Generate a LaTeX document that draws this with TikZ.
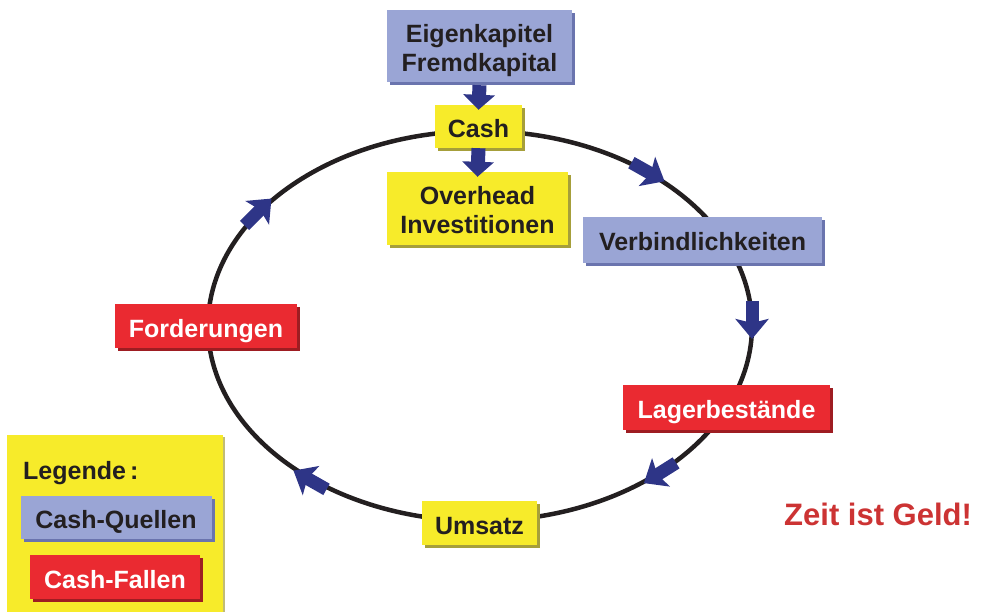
\documentclass[tikz,border=0pt]{standalone}
\usepackage{fontspec}
\setmainfont{Liberation Sans}
\usetikzlibrary{arrows.meta,shadows}
\definecolor{quelleblue}{HTML}{9AA5D5}
\definecolor{quelleshadow}{HTML}{6A74AE}
\definecolor{cashyellow}{HTML}{F7EB2A}
\definecolor{cashshadow}{HTML}{A69F3A}
\definecolor{fallered}{HTML}{EA2A31}
\definecolor{falleshadow}{HTML}{9E1D22}
\definecolor{flowblue}{HTML}{2E3587}
\definecolor{zeitred}{HTML}{CC3333}
\definecolor{textblack}{HTML}{231F20}
\tikzset{
  box/.style={inner sep=0pt, align=center, font=\bfseries\fontsize{25}{29}\selectfont},
  oneline/.style={text height=23pt, text depth=1pt},
  quelle/.style={box, fill=quelleblue, text=textblack,
    drop shadow={shadow xshift=3pt, shadow yshift=-3pt, fill=quelleshadow, opacity=1}},
  cash/.style={box, fill=cashyellow, text=textblack,
    drop shadow={shadow xshift=3pt, shadow yshift=-3pt, fill=cashshadow, opacity=1}},
  falle/.style={box, fill=fallered, text=white,
    drop shadow={shadow xshift=3pt, shadow yshift=-3pt, fill=falleshadow, opacity=1}},
  flow/.style={draw=flowblue, line width=14pt, -{Triangle[length=15pt, width=31pt]}},
  cycleflow/.style={draw=flowblue, line width=13pt, -{Stealth[length=20pt, width=33pt, inset=4pt]}}
}
\begin{document}
\begin{tikzpicture}[x=1pt, y=-1pt]
\useasboundingbox (0,0) rectangle (985,612);
% cycle
\draw[line width=4.5pt, textblack] (480,326) ellipse [x radius=272, y radius=195];
% sources
\node[quelle, minimum width=185pt, minimum height=72pt] (kapital) at (479.5,46)
  {\rule{0pt}{27pt}Eigenkapitel\\Fremdkapital\rule[-5pt]{0pt}{5pt}};
\node[cash, oneline, minimum width=87pt, minimum height=43pt] (cash) at (478.5,126.5) {Cash};
\node[cash, minimum width=181pt, minimum height=73pt] (overhead) at (477.5,208.5)
  {\rule{0pt}{27pt}Overhead\\Investitionen\rule[-5pt]{0pt}{5pt}};
\draw[flow] ([yshift=-3pt]kapital.south) -- ([yshift=-5pt]cash.north);
\draw[flow] (cash.south) -- ([yshift=-5pt]overhead.north);
% stations
\node[quelle, oneline, minimum width=239pt, minimum height=46pt] (verb) at (702.5,240) {Verbindlichkeiten};
\node[falle, oneline, minimum width=207pt, minimum height=45pt] (lager) at (726.5,407.5) {Lagerbestände};
\node[cash, oneline, minimum width=115pt, minimum height=44pt] (umsatz) at (479.5,523) {Umsatz};
\node[falle, oneline, minimum width=182pt, minimum height=44pt] (ford) at (206,326) {Forderungen};
% flow direction
\draw[cycleflow] (648,172) ++(209.3:19) -- ++(29.3:38);
\draw[cycleflow] (752,320) ++(-90:19) -- ++(90:38);
\draw[cycleflow] (660,473) ++(-32.2:19) -- ++(147.8:38);
\draw[cycleflow] (310,480) ++(29.6:19) -- ++(-150.4:38);
\draw[cycleflow] (258,212) ++(135:19) -- ++(-45:38);
% legend
\node[fill=cashyellow, inner sep=0pt, anchor=north west, minimum width=216pt, minimum height=180pt,
  drop shadow={shadow xshift=2pt, shadow yshift=-2pt, fill=cashshadow!70, opacity=1}] (legend) at (7,435) {};
\node[box, text=textblack, anchor=base west] (legtitle) at (23,479) {Legende\,:};
\node[quelle, oneline, minimum width=191pt, minimum height=43pt] (quellen) at (116,517) {Cash-Quellen};
\node[falle, oneline, minimum width=170pt, minimum height=44pt] (fallen) at (115,577) {Cash-Fallen};
\node[inner sep=0pt, anchor=base west, text=zeitred, font=\bfseries\fontsize{31}{35}\selectfont] (zeit) at (784,525) {Zeit ist Geld!};
\end{tikzpicture}
\end{document}
